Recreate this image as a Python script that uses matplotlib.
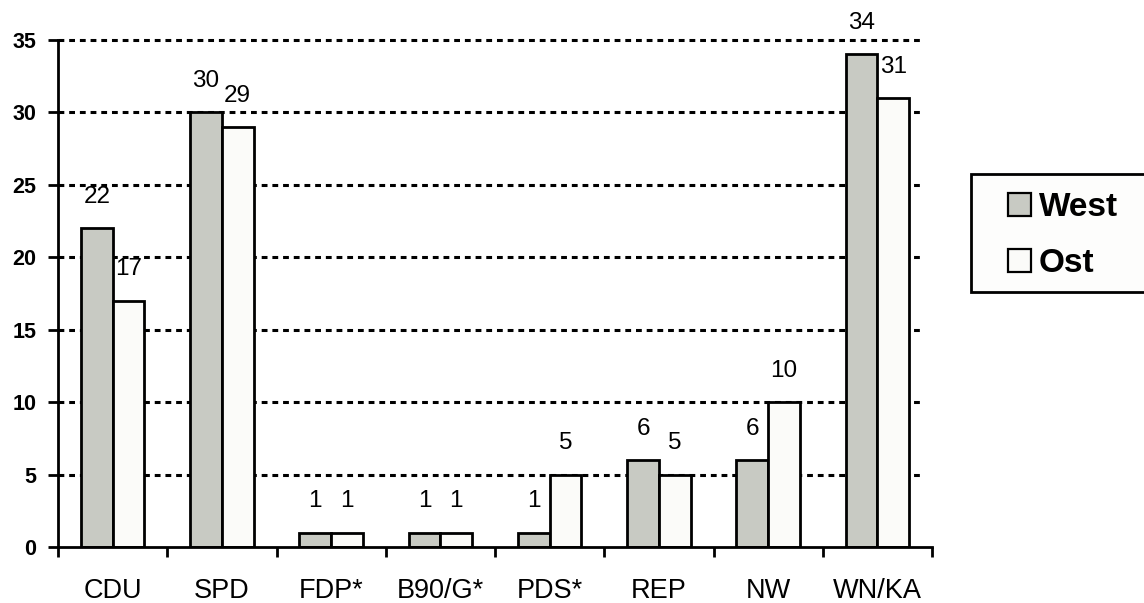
import matplotlib.pyplot as plt
from matplotlib.patches import Rectangle
import numpy as np

# Parteien und Werte (West / Ost)
parteien = ['CDU', 'SPD', 'FDP*', 'B90/G*', 'PDS*', 'REP', 'NW', 'WN/KA']
west = [22, 30, 1, 1, 1, 6, 6, 34]
ost = [17, 29, 1, 1, 5, 5, 10, 31]
y_ticks = [0, 5, 10, 15, 20, 25, 30, 35]

farbe_west = '#c8cac3'
farbe_ost = '#fbfbf9'

plt.rcParams['font.family'] = ['Liberation Sans', 'DejaVu Sans']

W, H = 1144, 603
fig = plt.figure(figsize=(W / 100, H / 100), dpi=100)
ax = fig.add_axes([58 / W, 1 - 547 / H, (932 - 58) / W, (547 - 40) / H])

x = np.arange(len(parteien))
width = 0.29

# gestrichelte Gitterlinien hinter den Balken
for yv in y_ticks[1:]:
    ax.plot([-0.5, 7.41], [yv, yv], color='black', lw=2.2,
            linestyle=(0, (1.9, 1.6)), zorder=1, clip_on=False)

bars_w = ax.bar(x - width / 2, west, width, color=farbe_west, edgecolor='black',
                linewidth=2, zorder=2)
bars_o = ax.bar(x + width / 2, ost, width, color=farbe_ost, edgecolor='black',
                linewidth=2, zorder=2)

for bars in (bars_w, bars_o):
    for b in bars:
        h = b.get_height()
        ax.annotate(f'{h:g}', (b.get_x() + b.get_width() / 2, h),
                    xytext=(0, 22.5), textcoords='offset points',
                    ha='center', va='center', fontsize=17.5)

ax.set_xlim(-0.5, 7.5)
ax.set_ylim(0, 35)

# Striche zwischen den Kategorien, Beschriftung in der Mitte
ax.set_xticks(np.arange(-0.5, 8, 1))
ax.set_xticklabels([])
ax.set_xticks(x, minor=True)
ax.set_xticklabels(parteien, minor=True, fontsize=19.5)
ax.tick_params(axis='x', which='major', direction='out', length=7.5, width=2)
ax.tick_params(axis='x', which='minor', length=0, pad=22)

ax.set_yticks(y_ticks)
ax.set_yticklabels([str(v) for v in y_ticks], fontsize=15.5, fontweight='bold')
ax.tick_params(axis='y', direction='out', length=7, width=2, pad=8.5)

for side in ('top', 'right'):
    ax.spines[side].set_visible(False)
for side in ('left', 'bottom'):
    ax.spines[side].set_linewidth(2)


def fx(px):
    return px / W


def fy(py):
    return 1 - py / H


# Legende als Kasten rechts, läuft über den Bildrand hinaus
fig.patches.append(Rectangle((fx(971), fy(292)), fx(1170) - fx(971), fy(174) - fy(292),
                             transform=fig.transFigure, facecolor='#fdfdfc',
                             edgecolor='black', linewidth=2, clip_on=False))
for name, farbe, yc in (('West', farbe_west, 204.5), ('Ost', farbe_ost, 260)):
    fig.patches.append(Rectangle((fx(1008), fy(yc + 11.5)), fx(1031) - fx(1008),
                                 fy(yc - 11.5) - fy(yc + 11.5),
                                 transform=fig.transFigure, facecolor=farbe,
                                 edgecolor='black', linewidth=1.6))
    fig.text(fx(1039), fy(yc), name, fontsize=24, fontweight='bold',
             ha='left', va='center_baseline')

fig.savefig('out.png', dpi=100)
